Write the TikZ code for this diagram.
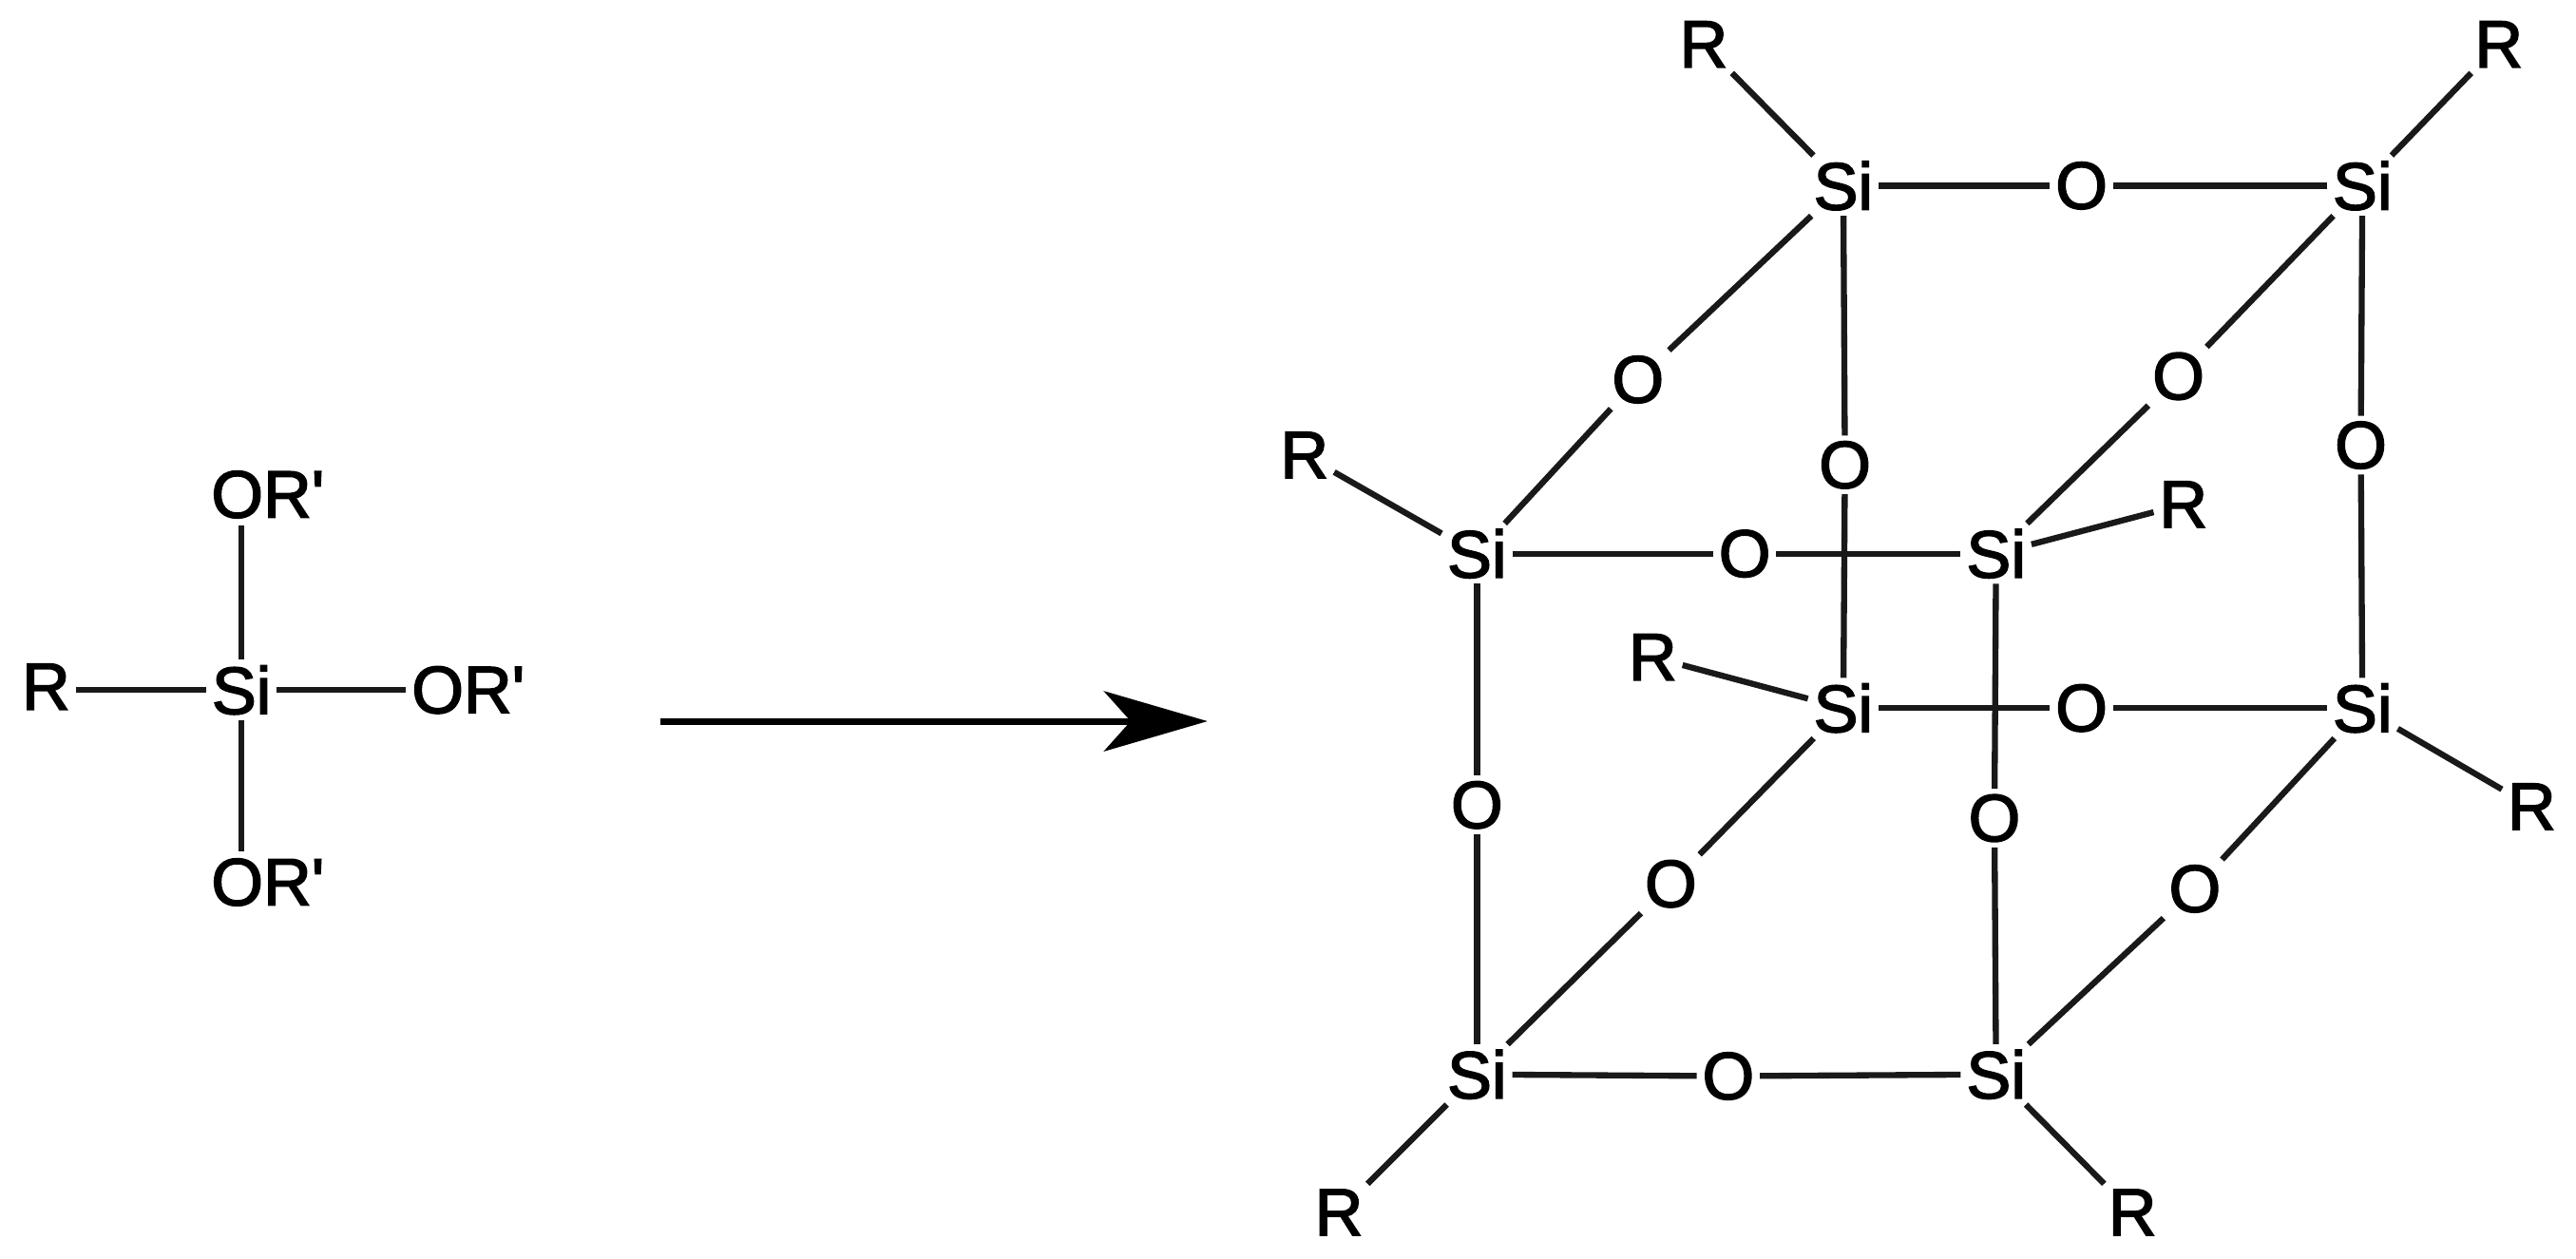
\documentclass[tikz,border=0pt]{standalone}
\usepackage{fontspec}
\setmainfont{Liberation Sans}
\usetikzlibrary{arrows.meta}
\tikzset{
  atomx/.style={inner sep=1.5pt,font=\fontsize{20}{22}\selectfont,text=black,
    execute at begin node={\special{pdf:code 2 Tr 0.45 w 0 0 0 RG}},
    execute at end node={\special{pdf:code 0 Tr 1 w}}},
  bond/.style={draw=black!90,line width=1.8pt},
  rxn/.style={draw=black,line width=2pt,-{Stealth[length=31pt,width=18pt,inset=8pt]}}
}
\begin{document}
\begin{tikzpicture}[x=0.01729cm,y=-0.01729cm]
\useasboundingbox (0,0) rectangle (1568,765.8);
\fill[white] (0,0) rectangle (1568,765.8);
% left monomer
\node[atomx] (mSi) at (147,420) {Si};
\node[atomx] (mR) at (28,418) {R};
\node[atomx] (mT) at (163,301) {OR\textquotesingle};
\node[atomx] (mE) at (285,420) {OR\textquotesingle};
\node[atomx] (mB) at (163,537) {OR\textquotesingle};
\coordinate (mTb) at (147,320);
\coordinate (mBb) at (147,518);
\draw[bond] (mSi) -- (mTb);
\draw[bond] (mSi) -- (mBb);
\draw[bond] (mSi.west) -- (mR.east |- mSi.west);
\draw[bond] (mSi) -- (mE);
% arrow
\coordinate (a1) at (402,439);
\coordinate (a2) at (735,439);
\draw[rxn] (a1) -- (a2);
% cube silicon
\node[atomx] (s1) at (1122,113) {Si};
\node[atomx] (s2) at (1438,113) {Si};
\node[atomx] (s3) at (899,337) {Si};
\node[atomx] (s4) at (1215,337) {Si};
\node[atomx] (s5) at (1122,431) {Si};
\node[atomx] (s6) at (1438,431) {Si};
\node[atomx] (s7) at (899,654) {Si};
\node[atomx] (s8) at (1215,654) {Si};
% oxygen
\node[atomx] (o12) at (1267,113) {O};
\node[atomx] (o13) at (997,231) {O};
\node[atomx] (o24) at (1326,229) {O};
\node[atomx] (o15) at (1123,283) {O};
\node[atomx] (o26) at (1437,271) {O};
\node[atomx] (o34) at (1062,337) {O};
\node[atomx] (o56) at (1267,431) {O};
\node[atomx] (o37) at (899,490) {O};
\node[atomx] (o48) at (1214,498) {O};
\node[atomx] (o57) at (1017,538) {O};
\node[atomx] (o68) at (1336,541) {O};
\node[atomx] (o78) at (1052,655) {O};
% R groups
\node[atomx] (r1) at (1037,27) {R};
\node[atomx] (r2) at (1521,27) {R};
\node[atomx] (r3) at (794,277) {R};
\node[atomx] (r4) at (1329,307) {R};
\node[atomx] (r5) at (1006,400) {R};
\node[atomx] (r6) at (1541,491) {R};
\node[atomx] (r7) at (815,738) {R};
\node[atomx] (r8) at (1298,738) {R};
% bonds
\foreach \a/\b in {s1/o12,o12/s2,s1/o13,o13/s3,s2/o24,o24/s4,s1/o15,o15/s5,s2/o26,o26/s6,
  s3/o34,o34/s4,s5/o56,o56/s6,s3/o37,o37/s7,s4/o48,o48/s8,s5/o57,o57/s7,s6/o68,o68/s8,s7/o78,o78/s8,
  s1/r1,s2/r2,s3/r3,s4/r4,s5/r5,s6/r6,s7/r7,s8/r8}
  \draw[bond] (\a) -- (\b);
\end{tikzpicture}
\end{document}
